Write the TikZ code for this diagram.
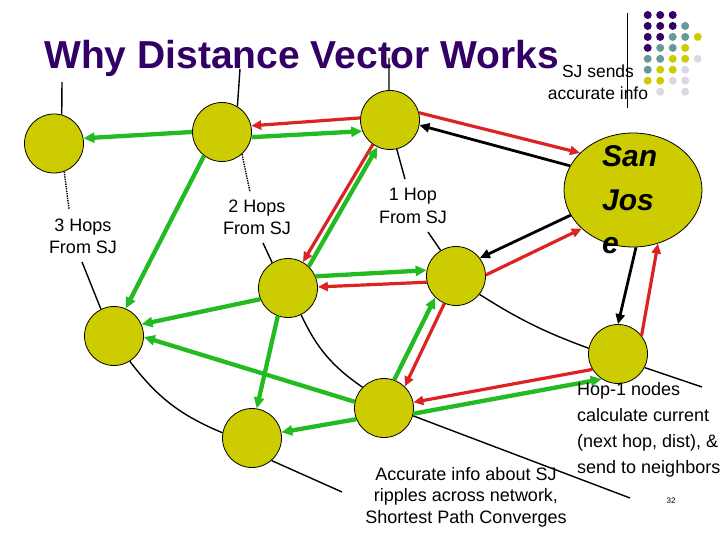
\documentclass[tikz,border=0pt]{standalone}
\usepackage{fontspec}
\setmainfont{Liberation Sans}
\usepackage{tikz}
\usetikzlibrary{arrows.meta,shapes.geometric}
\definecolor{DVpurple}{HTML}{330066}
\definecolor{DVteal}{HTML}{669999}
\definecolor{DVolive}{HTML}{CCCC00}
\definecolor{DVlilac}{HTML}{D9D9E6}
\definecolor{DVgreen}{HTML}{22BB22}
\definecolor{DVred}{HTML}{DD2222}

\begin{document}
\begin{tikzpicture}[
  x=1pt,y=-1pt,
  router/.style={circle,draw,line width=0.8pt,fill=DVolive,minimum size=59pt,inner sep=0pt},
  hoptext/.style={align=center,inner sep=0pt,font=\fontsize{18}{22}\selectfont},
  wire/.style={line width=1.4pt},
  greenarrow/.style={color=DVgreen,line width=4.3pt,-{Triangle[length=11pt,width=10pt]}},
  redarrow/.style={color=DVred,line width=3.2pt,-{Triangle[length=10pt,width=9pt]}},
  blackarrow/.style={color=black,line width=2.8pt,-{Triangle[length=10pt,width=9pt]}}
]
\useasboundingbox[fill=white] (0,0) rectangle (720,540);

% template dots and rule
\foreach \r/\beads in {
  0/{0/DVpurple,1/DVpurple,2/DVpurple},
  1/{0/DVpurple,1/DVpurple,2/DVpurple,3/DVteal},
  2/{0/DVpurple,1/DVpurple,2/DVteal,3/DVteal,4/DVolive},
  3/{0/DVpurple,1/DVteal,2/DVteal,3/DVolive},
  4/{0/DVteal,1/DVteal,2/DVolive,3/DVolive,4/DVlilac},
  5/{0/DVteal,1/DVolive,2/DVolive,3/DVlilac},
  6/{0/DVolive,1/DVolive,2/DVlilac,3/DVlilac},
  7/{1/DVlilac,3/DVlilac}}
  \foreach \c/\clr in \beads
    \fill[\clr] (647.7+12.5*\c,15+10.95*\r) circle (4pt);
\draw[line width=1pt] (627,13) -- (627,108);

\node[anchor=base west,inner sep=0pt,text=DVpurple,font=\fontsize{39}{47}\selectfont\bfseries] (title) at (44,69) {Why Distance Vector Works};
\node[align=center,anchor=base,inner sep=0pt,font=\fontsize{17.5}{22}\selectfont] (sends) at (598,100) {SJ sends\\accurate info};

% routers
\node[router] (a) at (54,143.5) {};
\node[router] (b) at (222,132) {};
\node[router] (c) at (390,120) {};
\node[router] (d) at (456,276) {};
\node[router] (e) at (288,288) {};
\node[router] (f) at (114,336) {};
\node[router] (g) at (252,438) {};
\node[router] (h) at (384,408) {};
\node[router] (i) at (618,354) {};
\node[router,ellipse,minimum width=138pt,minimum height=114pt] (sj) at (633,190) {};

% hop labels (base = last line)
\node[hoptext,anchor=base] (three) at (83,253) {3 Hops\\From SJ};
\node[hoptext,anchor=base] (two) at (257,235) {2 Hops\\From SJ};
\node[hoptext,anchor=base] (one) at (413,223) {1 Hop\\From SJ};

% free ends of the thin lines
\coordinate (aTop) at (62,82);
\coordinate (bTop) at (240,69);
\coordinate (cTop) at (389,58);
\coordinate (threeUp) at (69,209);
\coordinate (threeDown) at (82,262);
\coordinate (twoUp) at (250,192);
\coordinate (twoDown) at (263,243);
\coordinate (oneUp) at (405,179);
\coordinate (oneDown) at (428,232);
\coordinate (iEnd) at (702,387);
\coordinate (gEnd) at (342,492);
\coordinate (hEnd) at (630,498);

% thin black links
\draw[wire] (a.75) -- (aTop);
\draw[wire] (b.59) -- (bTop);
\draw[wire] (c.92) -- (cTop);
\draw[wire,densely dotted] (a.-70) -- (threeUp);
\draw[wire] (threeDown) -- (f.116);
\draw[wire,densely dotted] (b.-48) -- (twoUp);
\draw[wire] (twoDown) -- (e.122);
\draw[wire] (c.-77) -- (oneUp);
\draw[wire] (oneDown) -- (d.121);
\draw[wire] (d.-38) to[bend right=6] (i.169);
\draw[wire] (i.-27) -- (iEnd);
\draw[wire] (e.-64) to[bend right=15] (h.136);
\draw[wire] (f.-58) to[bend right=15] (g.170);
\draw[wire] (g.-49) -- (gEnd);
\draw[wire] (h.-15) -- (hEnd);

% updates sent by San Jose
\draw[blackarrow] (sj.159) -- (c.-10);
\draw[blackarrow] (sj.202) -- (d.37);
\draw[blackarrow] (sj.-87) -- (i.90);

% replies back
\draw[redarrow] (c.14) -- (sj.145);
\draw[redarrow] (d.2) -- (sj.217);
\draw[redarrow] (i.38) -- (sj.-65);
\draw[redarrow] (c.176) -- (b.12);
\draw[redarrow] (c.235) -- (e.60);
\draw[redarrow] (d.192) -- (e.2);
\draw[redarrow] (d.247) -- (h.46);
\draw[redarrow] (i.211) -- (h.11);

% forwarded info
\draw[greenarrow] (b.180) -- (a.10);
\draw[greenarrow] (b.-10) -- (c.202);
\draw[greenarrow] (b.233) -- (f.67);
\draw[greenarrow] (e.46) -- (c.245);
\draw[greenarrow] (e.23) -- (d.169);
\draw[greenarrow] (e.202) -- (f.23);
\draw[greenarrow] (e.250) -- (g.81);
\draw[greenarrow] (h.168) -- (f.-2);
\draw[greenarrow] (h.202) -- (g.11);
\draw[greenarrow] (h.70) -- (d.226);
\draw[greenarrow] (h.-11) -- (i.237);

\node[align=left,anchor=base west,inner sep=0pt,font=\fontsize{30}{43}\selectfont\bfseries\itshape] (sjname) at (602,253) {San\\Jos\\e};
\node[align=left,anchor=base west,inner sep=0pt,font=\fontsize{18}{26}\selectfont] (hopone) at (577,473) {Hop-1 nodes\\calculate current\\(next hop, dist), \&\\send to neighbors};
\node[align=center,anchor=base,inner sep=0pt,font=\fontsize{18}{21.5}\selectfont] (ripple) at (466,523) {Accurate info about SJ\\ripples across network,\\Shortest Path Converges};
\node[font=\fontsize{8}{9}\selectfont] (pagenum) at (671,501) {32};
\end{tikzpicture}
\end{document}
